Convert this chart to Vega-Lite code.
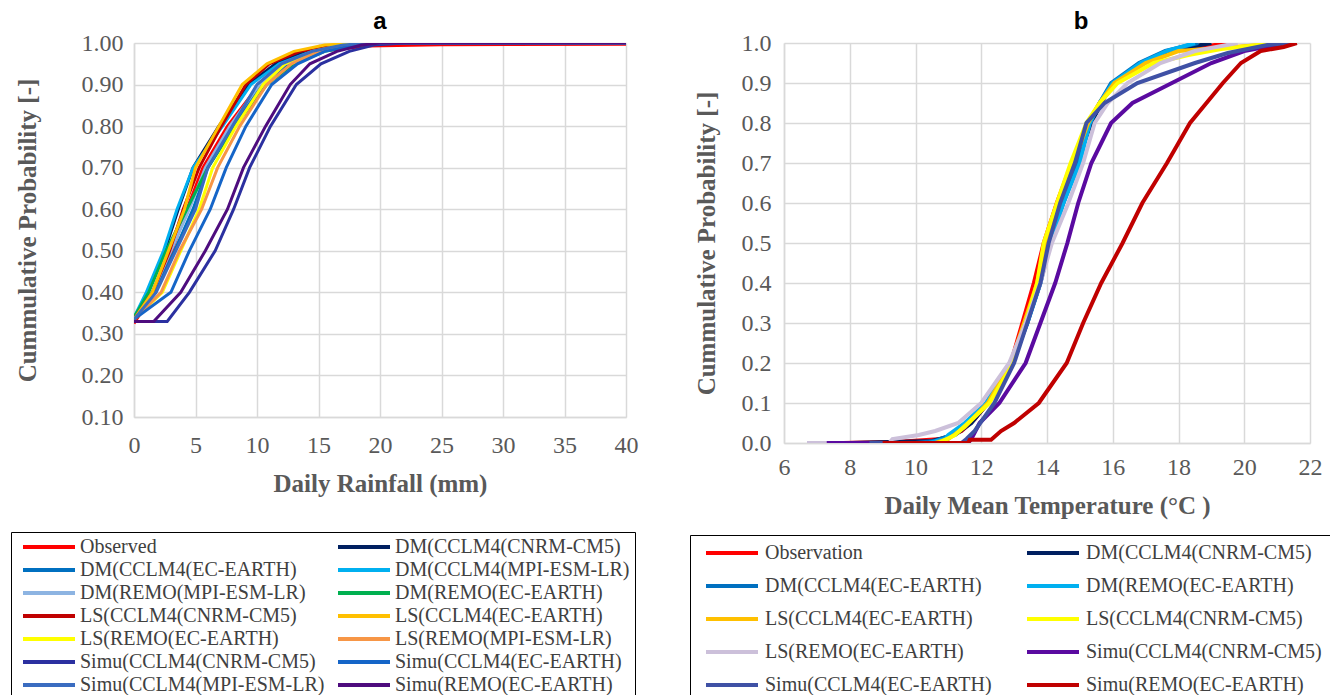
{
  "$schema": "https://vega.github.io/schema/vega-lite/v6.json",
  "background": "white",
  "padding": {"left": 10, "top": 10, "right": 5, "bottom": 5},
  "spacing": 51,
  "config": {
    "view": {"stroke": null},
    "font": "Liberation Serif",
    "title": {"font": "Liberation Sans", "fontSize": 24, "fontWeight": "bold", "color": "black", "offset": -3},
    "axis": {
      "grid": true, "gridColor": "#D9D9D9", "gridWidth": 1.5,
      "domainColor": "#D9D9D9", "domainWidth": 1.5, "ticks": false,
      "labelFont": "Liberation Serif", "labelFontSize": 24, "labelColor": "#595959",
      "labelOverlap": false, "labelFlush": false,
      "titleFont": "Liberation Serif", "titleFontSize": 25, "titleFontWeight": "bold", "titleColor": "#595959"
    },
    "legend": {
      "symbolType": "stroke", "symbolSize": 2704, "symbolStrokeWidth": 4,
      "labelFont": "Liberation Serif", "labelFontSize": 20, "labelColor": "#404040", "labelLimit": 400,
      "clipHeight": 20, "gridAlign": "all", "strokeColor": "black", "fillColor": "white"
    }
  },
  "datasets": {
    "rain": [
      {"s": "Observed", "x": 0, "p": 0.325}, {"s": "Observed", "x": 1.6, "p": 0.4}, {"s": "Observed", "x": 3.1, "p": 0.5}, {"s": "Observed", "x": 4.3, "p": 0.6}, {"s": "Observed", "x": 5.6, "p": 0.7}, {"s": "Observed", "x": 7.6, "p": 0.8}, {"s": "Observed", "x": 10.2, "p": 0.9}, {"s": "Observed", "x": 12.5, "p": 0.95}, {"s": "Observed", "x": 15, "p": 0.98}, {"s": "Observed", "x": 19, "p": 0.993}, {"s": "Observed", "x": 25, "p": 0.996}, {"s": "Observed", "x": 40, "p": 0.997},
      {"s": "DM(CCLM4(CNRM-CM5)", "x": 0, "p": 0.335}, {"s": "DM(CCLM4(CNRM-CM5)", "x": 1.1, "p": 0.4}, {"s": "DM(CCLM4(CNRM-CM5)", "x": 2.5, "p": 0.5}, {"s": "DM(CCLM4(CNRM-CM5)", "x": 3.6, "p": 0.6}, {"s": "DM(CCLM4(CNRM-CM5)", "x": 4.8, "p": 0.7}, {"s": "DM(CCLM4(CNRM-CM5)", "x": 6.9, "p": 0.8}, {"s": "DM(CCLM4(CNRM-CM5)", "x": 9.3, "p": 0.9}, {"s": "DM(CCLM4(CNRM-CM5)", "x": 11.5, "p": 0.95}, {"s": "DM(CCLM4(CNRM-CM5)", "x": 14, "p": 0.98}, {"s": "DM(CCLM4(CNRM-CM5)", "x": 17, "p": 0.995}, {"s": "DM(CCLM4(CNRM-CM5)", "x": 20, "p": 1}, {"s": "DM(CCLM4(CNRM-CM5)", "x": 40, "p": 1},
      {"s": "DM(CCLM4(EC-EARTH)", "x": 0, "p": 0.335}, {"s": "DM(CCLM4(EC-EARTH)", "x": 1.7, "p": 0.4}, {"s": "DM(CCLM4(EC-EARTH)", "x": 3.3, "p": 0.5}, {"s": "DM(CCLM4(EC-EARTH)", "x": 4.8, "p": 0.6}, {"s": "DM(CCLM4(EC-EARTH)", "x": 6.0, "p": 0.7}, {"s": "DM(CCLM4(EC-EARTH)", "x": 8.0, "p": 0.8}, {"s": "DM(CCLM4(EC-EARTH)", "x": 10.4, "p": 0.9}, {"s": "DM(CCLM4(EC-EARTH)", "x": 12.5, "p": 0.95}, {"s": "DM(CCLM4(EC-EARTH)", "x": 15, "p": 0.98}, {"s": "DM(CCLM4(EC-EARTH)", "x": 18, "p": 0.995}, {"s": "DM(CCLM4(EC-EARTH)", "x": 20, "p": 1}, {"s": "DM(CCLM4(EC-EARTH)", "x": 40, "p": 1},
      {"s": "DM(CCLM4(MPI-ESM-LR)", "x": 0, "p": 0.34}, {"s": "DM(CCLM4(MPI-ESM-LR)", "x": 1.0, "p": 0.4}, {"s": "DM(CCLM4(MPI-ESM-LR)", "x": 2.4, "p": 0.5}, {"s": "DM(CCLM4(MPI-ESM-LR)", "x": 3.5, "p": 0.6}, {"s": "DM(CCLM4(MPI-ESM-LR)", "x": 4.8, "p": 0.7}, {"s": "DM(CCLM4(MPI-ESM-LR)", "x": 7.2, "p": 0.8}, {"s": "DM(CCLM4(MPI-ESM-LR)", "x": 9.5, "p": 0.9}, {"s": "DM(CCLM4(MPI-ESM-LR)", "x": 11.8, "p": 0.95}, {"s": "DM(CCLM4(MPI-ESM-LR)", "x": 14.5, "p": 0.98}, {"s": "DM(CCLM4(MPI-ESM-LR)", "x": 17, "p": 0.995}, {"s": "DM(CCLM4(MPI-ESM-LR)", "x": 19, "p": 1}, {"s": "DM(CCLM4(MPI-ESM-LR)", "x": 40, "p": 1},
      {"s": "DM(REMO(MPI-ESM-LR)", "x": 0, "p": 0.335}, {"s": "DM(REMO(MPI-ESM-LR)", "x": 1.5, "p": 0.4}, {"s": "DM(REMO(MPI-ESM-LR)", "x": 3.0, "p": 0.5}, {"s": "DM(REMO(MPI-ESM-LR)", "x": 4.5, "p": 0.6}, {"s": "DM(REMO(MPI-ESM-LR)", "x": 5.8, "p": 0.7}, {"s": "DM(REMO(MPI-ESM-LR)", "x": 7.8, "p": 0.8}, {"s": "DM(REMO(MPI-ESM-LR)", "x": 10.2, "p": 0.9}, {"s": "DM(REMO(MPI-ESM-LR)", "x": 12.3, "p": 0.95}, {"s": "DM(REMO(MPI-ESM-LR)", "x": 15, "p": 0.98}, {"s": "DM(REMO(MPI-ESM-LR)", "x": 18, "p": 0.995}, {"s": "DM(REMO(MPI-ESM-LR)", "x": 20, "p": 1}, {"s": "DM(REMO(MPI-ESM-LR)", "x": 40, "p": 1},
      {"s": "DM(REMO(EC-EARTH)", "x": 0, "p": 0.34}, {"s": "DM(REMO(EC-EARTH)", "x": 1.2, "p": 0.4}, {"s": "DM(REMO(EC-EARTH)", "x": 2.6, "p": 0.5}, {"s": "DM(REMO(EC-EARTH)", "x": 4.3, "p": 0.6}, {"s": "DM(REMO(EC-EARTH)", "x": 6.0, "p": 0.7}, {"s": "DM(REMO(EC-EARTH)", "x": 8.2, "p": 0.8}, {"s": "DM(REMO(EC-EARTH)", "x": 10.8, "p": 0.9}, {"s": "DM(REMO(EC-EARTH)", "x": 13, "p": 0.95}, {"s": "DM(REMO(EC-EARTH)", "x": 15.5, "p": 0.98}, {"s": "DM(REMO(EC-EARTH)", "x": 18.5, "p": 0.995}, {"s": "DM(REMO(EC-EARTH)", "x": 21, "p": 1}, {"s": "DM(REMO(EC-EARTH)", "x": 40, "p": 1},
      {"s": "LS(CCLM4(CNRM-CM5)", "x": 0, "p": 0.335}, {"s": "LS(CCLM4(CNRM-CM5)", "x": 1.5, "p": 0.4}, {"s": "LS(CCLM4(CNRM-CM5)", "x": 2.9, "p": 0.5}, {"s": "LS(CCLM4(CNRM-CM5)", "x": 4.0, "p": 0.6}, {"s": "LS(CCLM4(CNRM-CM5)", "x": 5.3, "p": 0.7}, {"s": "LS(CCLM4(CNRM-CM5)", "x": 7.1, "p": 0.8}, {"s": "LS(CCLM4(CNRM-CM5)", "x": 9.1, "p": 0.9}, {"s": "LS(CCLM4(CNRM-CM5)", "x": 11, "p": 0.95}, {"s": "LS(CCLM4(CNRM-CM5)", "x": 13.5, "p": 0.98}, {"s": "LS(CCLM4(CNRM-CM5)", "x": 16.5, "p": 0.995}, {"s": "LS(CCLM4(CNRM-CM5)", "x": 19, "p": 1}, {"s": "LS(CCLM4(CNRM-CM5)", "x": 40, "p": 1},
      {"s": "LS(CCLM4(EC-EARTH)", "x": 0, "p": 0.335}, {"s": "LS(CCLM4(EC-EARTH)", "x": 1.5, "p": 0.4}, {"s": "LS(CCLM4(EC-EARTH)", "x": 2.8, "p": 0.5}, {"s": "LS(CCLM4(EC-EARTH)", "x": 4.1, "p": 0.6}, {"s": "LS(CCLM4(EC-EARTH)", "x": 5.0, "p": 0.7}, {"s": "LS(CCLM4(EC-EARTH)", "x": 6.9, "p": 0.8}, {"s": "LS(CCLM4(EC-EARTH)", "x": 8.8, "p": 0.9}, {"s": "LS(CCLM4(EC-EARTH)", "x": 10.8, "p": 0.95}, {"s": "LS(CCLM4(EC-EARTH)", "x": 13, "p": 0.98}, {"s": "LS(CCLM4(EC-EARTH)", "x": 15.5, "p": 0.995}, {"s": "LS(CCLM4(EC-EARTH)", "x": 18, "p": 1}, {"s": "LS(CCLM4(EC-EARTH)", "x": 40, "p": 1},
      {"s": "LS(REMO(EC-EARTH)", "x": 0, "p": 0.335}, {"s": "LS(REMO(EC-EARTH)", "x": 2.3, "p": 0.4}, {"s": "LS(REMO(EC-EARTH)", "x": 3.8, "p": 0.5}, {"s": "LS(REMO(EC-EARTH)", "x": 5.3, "p": 0.6}, {"s": "LS(REMO(EC-EARTH)", "x": 6.4, "p": 0.7}, {"s": "LS(REMO(EC-EARTH)", "x": 8.3, "p": 0.8}, {"s": "LS(REMO(EC-EARTH)", "x": 10.5, "p": 0.9}, {"s": "LS(REMO(EC-EARTH)", "x": 12.3, "p": 0.95}, {"s": "LS(REMO(EC-EARTH)", "x": 14.5, "p": 0.98}, {"s": "LS(REMO(EC-EARTH)", "x": 17, "p": 0.995}, {"s": "LS(REMO(EC-EARTH)", "x": 19, "p": 1}, {"s": "LS(REMO(EC-EARTH)", "x": 40, "p": 1},
      {"s": "LS(REMO(MPI-ESM-LR)", "x": 0, "p": 0.335}, {"s": "LS(REMO(MPI-ESM-LR)", "x": 2.2, "p": 0.4}, {"s": "LS(REMO(MPI-ESM-LR)", "x": 3.7, "p": 0.5}, {"s": "LS(REMO(MPI-ESM-LR)", "x": 5.5, "p": 0.6}, {"s": "LS(REMO(MPI-ESM-LR)", "x": 6.8, "p": 0.7}, {"s": "LS(REMO(MPI-ESM-LR)", "x": 8.6, "p": 0.8}, {"s": "LS(REMO(MPI-ESM-LR)", "x": 10.8, "p": 0.9}, {"s": "LS(REMO(MPI-ESM-LR)", "x": 12.8, "p": 0.95}, {"s": "LS(REMO(MPI-ESM-LR)", "x": 15, "p": 0.98}, {"s": "LS(REMO(MPI-ESM-LR)", "x": 17.5, "p": 0.995}, {"s": "LS(REMO(MPI-ESM-LR)", "x": 20, "p": 1}, {"s": "LS(REMO(MPI-ESM-LR)", "x": 40, "p": 1},
      {"s": "Simu(CCLM4(CNRM-CM5)", "x": 0, "p": 0.33}, {"s": "Simu(CCLM4(CNRM-CM5)", "x": 2.7, "p": 0.33}, {"s": "Simu(CCLM4(CNRM-CM5)", "x": 4.5, "p": 0.4}, {"s": "Simu(CCLM4(CNRM-CM5)", "x": 6.6, "p": 0.5}, {"s": "Simu(CCLM4(CNRM-CM5)", "x": 8.1, "p": 0.6}, {"s": "Simu(CCLM4(CNRM-CM5)", "x": 9.4, "p": 0.7}, {"s": "Simu(CCLM4(CNRM-CM5)", "x": 11.1, "p": 0.8}, {"s": "Simu(CCLM4(CNRM-CM5)", "x": 13.2, "p": 0.9}, {"s": "Simu(CCLM4(CNRM-CM5)", "x": 15.2, "p": 0.95}, {"s": "Simu(CCLM4(CNRM-CM5)", "x": 17.5, "p": 0.98}, {"s": "Simu(CCLM4(CNRM-CM5)", "x": 19.5, "p": 0.995}, {"s": "Simu(CCLM4(CNRM-CM5)", "x": 22, "p": 1}, {"s": "Simu(CCLM4(CNRM-CM5)", "x": 40, "p": 1},
      {"s": "Simu(CCLM4(EC-EARTH)", "x": 0, "p": 0.335}, {"s": "Simu(CCLM4(EC-EARTH)", "x": 3.0, "p": 0.4}, {"s": "Simu(CCLM4(EC-EARTH)", "x": 4.5, "p": 0.5}, {"s": "Simu(CCLM4(EC-EARTH)", "x": 6.2, "p": 0.6}, {"s": "Simu(CCLM4(EC-EARTH)", "x": 7.5, "p": 0.7}, {"s": "Simu(CCLM4(EC-EARTH)", "x": 9.1, "p": 0.8}, {"s": "Simu(CCLM4(EC-EARTH)", "x": 11.2, "p": 0.9}, {"s": "Simu(CCLM4(EC-EARTH)", "x": 13.3, "p": 0.95}, {"s": "Simu(CCLM4(EC-EARTH)", "x": 15.5, "p": 0.98}, {"s": "Simu(CCLM4(EC-EARTH)", "x": 18, "p": 0.995}, {"s": "Simu(CCLM4(EC-EARTH)", "x": 20, "p": 1}, {"s": "Simu(CCLM4(EC-EARTH)", "x": 40, "p": 1},
      {"s": "Simu(CCLM4(MPI-ESM-LR)", "x": 0, "p": 0.335}, {"s": "Simu(CCLM4(MPI-ESM-LR)", "x": 1.8, "p": 0.4}, {"s": "Simu(CCLM4(MPI-ESM-LR)", "x": 3.4, "p": 0.5}, {"s": "Simu(CCLM4(MPI-ESM-LR)", "x": 5.0, "p": 0.6}, {"s": "Simu(CCLM4(MPI-ESM-LR)", "x": 6.0, "p": 0.7}, {"s": "Simu(CCLM4(MPI-ESM-LR)", "x": 8.0, "p": 0.8}, {"s": "Simu(CCLM4(MPI-ESM-LR)", "x": 10.0, "p": 0.9}, {"s": "Simu(CCLM4(MPI-ESM-LR)", "x": 12, "p": 0.95}, {"s": "Simu(CCLM4(MPI-ESM-LR)", "x": 14.5, "p": 0.98}, {"s": "Simu(CCLM4(MPI-ESM-LR)", "x": 17, "p": 0.995}, {"s": "Simu(CCLM4(MPI-ESM-LR)", "x": 19, "p": 1}, {"s": "Simu(CCLM4(MPI-ESM-LR)", "x": 40, "p": 1},
      {"s": "Simu(REMO(EC-EARTH)", "x": 0, "p": 0.33}, {"s": "Simu(REMO(EC-EARTH)", "x": 1.6, "p": 0.33}, {"s": "Simu(REMO(EC-EARTH)", "x": 3.8, "p": 0.4}, {"s": "Simu(REMO(EC-EARTH)", "x": 5.8, "p": 0.5}, {"s": "Simu(REMO(EC-EARTH)", "x": 7.6, "p": 0.6}, {"s": "Simu(REMO(EC-EARTH)", "x": 8.9, "p": 0.7}, {"s": "Simu(REMO(EC-EARTH)", "x": 10.7, "p": 0.8}, {"s": "Simu(REMO(EC-EARTH)", "x": 12.7, "p": 0.9}, {"s": "Simu(REMO(EC-EARTH)", "x": 14.3, "p": 0.95}, {"s": "Simu(REMO(EC-EARTH)", "x": 16.5, "p": 0.98}, {"s": "Simu(REMO(EC-EARTH)", "x": 18.5, "p": 0.995}, {"s": "Simu(REMO(EC-EARTH)", "x": 20, "p": 1}, {"s": "Simu(REMO(EC-EARTH)", "x": 40, "p": 1}
    ],
    "temp": [
      {"s": "Observation", "x": 7.8, "p": 0}, {"s": "Observation", "x": 9.5, "p": 0.003}, {"s": "Observation", "x": 10.8, "p": 0.01}, {"s": "Observation", "x": 11.4, "p": 0.03}, {"s": "Observation", "x": 11.8, "p": 0.06}, {"s": "Observation", "x": 12.2, "p": 0.1}, {"s": "Observation", "x": 12.9, "p": 0.2}, {"s": "Observation", "x": 13.25, "p": 0.3}, {"s": "Observation", "x": 13.6, "p": 0.4}, {"s": "Observation", "x": 13.9, "p": 0.5}, {"s": "Observation", "x": 14.3, "p": 0.6}, {"s": "Observation", "x": 14.75, "p": 0.7}, {"s": "Observation", "x": 15.25, "p": 0.8}, {"s": "Observation", "x": 15.6, "p": 0.85}, {"s": "Observation", "x": 16.1, "p": 0.9}, {"s": "Observation", "x": 16.9, "p": 0.95}, {"s": "Observation", "x": 17.9, "p": 0.98}, {"s": "Observation", "x": 19.5, "p": 1},
      {"s": "DM(CCLM4(CNRM-CM5)", "x": 8.0, "p": 0}, {"s": "DM(CCLM4(CNRM-CM5)", "x": 10.5, "p": 0.005}, {"s": "DM(CCLM4(CNRM-CM5)", "x": 11.2, "p": 0.02}, {"s": "DM(CCLM4(CNRM-CM5)", "x": 11.7, "p": 0.05}, {"s": "DM(CCLM4(CNRM-CM5)", "x": 12.2, "p": 0.1}, {"s": "DM(CCLM4(CNRM-CM5)", "x": 12.95, "p": 0.2}, {"s": "DM(CCLM4(CNRM-CM5)", "x": 13.4, "p": 0.3}, {"s": "DM(CCLM4(CNRM-CM5)", "x": 13.75, "p": 0.4}, {"s": "DM(CCLM4(CNRM-CM5)", "x": 14.05, "p": 0.5}, {"s": "DM(CCLM4(CNRM-CM5)", "x": 14.45, "p": 0.6}, {"s": "DM(CCLM4(CNRM-CM5)", "x": 14.9, "p": 0.7}, {"s": "DM(CCLM4(CNRM-CM5)", "x": 15.35, "p": 0.8}, {"s": "DM(CCLM4(CNRM-CM5)", "x": 15.65, "p": 0.85}, {"s": "DM(CCLM4(CNRM-CM5)", "x": 16.0, "p": 0.9}, {"s": "DM(CCLM4(CNRM-CM5)", "x": 16.9, "p": 0.95}, {"s": "DM(CCLM4(CNRM-CM5)", "x": 17.7, "p": 0.98}, {"s": "DM(CCLM4(CNRM-CM5)", "x": 19.0, "p": 1},
      {"s": "DM(CCLM4(EC-EARTH)", "x": 10.0, "p": 0}, {"s": "DM(CCLM4(EC-EARTH)", "x": 10.6, "p": 0.005}, {"s": "DM(CCLM4(EC-EARTH)", "x": 11.1, "p": 0.02}, {"s": "DM(CCLM4(EC-EARTH)", "x": 11.6, "p": 0.05}, {"s": "DM(CCLM4(EC-EARTH)", "x": 12.15, "p": 0.1}, {"s": "DM(CCLM4(EC-EARTH)", "x": 12.9, "p": 0.2}, {"s": "DM(CCLM4(EC-EARTH)", "x": 13.4, "p": 0.3}, {"s": "DM(CCLM4(EC-EARTH)", "x": 13.8, "p": 0.4}, {"s": "DM(CCLM4(EC-EARTH)", "x": 14.1, "p": 0.5}, {"s": "DM(CCLM4(EC-EARTH)", "x": 14.5, "p": 0.6}, {"s": "DM(CCLM4(EC-EARTH)", "x": 14.95, "p": 0.7}, {"s": "DM(CCLM4(EC-EARTH)", "x": 15.3, "p": 0.8}, {"s": "DM(CCLM4(EC-EARTH)", "x": 15.6, "p": 0.85}, {"s": "DM(CCLM4(EC-EARTH)", "x": 15.95, "p": 0.9}, {"s": "DM(CCLM4(EC-EARTH)", "x": 16.8, "p": 0.95}, {"s": "DM(CCLM4(EC-EARTH)", "x": 17.6, "p": 0.98}, {"s": "DM(CCLM4(EC-EARTH)", "x": 18.6, "p": 1},
      {"s": "DM(REMO(EC-EARTH)", "x": 10.4, "p": 0}, {"s": "DM(REMO(EC-EARTH)", "x": 10.9, "p": 0.01}, {"s": "DM(REMO(EC-EARTH)", "x": 11.0, "p": 0.02}, {"s": "DM(REMO(EC-EARTH)", "x": 11.5, "p": 0.05}, {"s": "DM(REMO(EC-EARTH)", "x": 12.15, "p": 0.1}, {"s": "DM(REMO(EC-EARTH)", "x": 12.9, "p": 0.2}, {"s": "DM(REMO(EC-EARTH)", "x": 13.4, "p": 0.3}, {"s": "DM(REMO(EC-EARTH)", "x": 13.8, "p": 0.4}, {"s": "DM(REMO(EC-EARTH)", "x": 14.1, "p": 0.5}, {"s": "DM(REMO(EC-EARTH)", "x": 14.5, "p": 0.6}, {"s": "DM(REMO(EC-EARTH)", "x": 15.0, "p": 0.7}, {"s": "DM(REMO(EC-EARTH)", "x": 15.3, "p": 0.8}, {"s": "DM(REMO(EC-EARTH)", "x": 15.6, "p": 0.85}, {"s": "DM(REMO(EC-EARTH)", "x": 16.0, "p": 0.9}, {"s": "DM(REMO(EC-EARTH)", "x": 16.85, "p": 0.95}, {"s": "DM(REMO(EC-EARTH)", "x": 17.65, "p": 0.98}, {"s": "DM(REMO(EC-EARTH)", "x": 18.5, "p": 1},
      {"s": "LS(CCLM4(EC-EARTH)", "x": 10.6, "p": 0}, {"s": "LS(CCLM4(EC-EARTH)", "x": 11.0, "p": 0.01}, {"s": "LS(CCLM4(EC-EARTH)", "x": 11.5, "p": 0.04}, {"s": "LS(CCLM4(EC-EARTH)", "x": 12.2, "p": 0.1}, {"s": "LS(CCLM4(EC-EARTH)", "x": 12.9, "p": 0.2}, {"s": "LS(CCLM4(EC-EARTH)", "x": 13.3, "p": 0.3}, {"s": "LS(CCLM4(EC-EARTH)", "x": 13.7, "p": 0.4}, {"s": "LS(CCLM4(EC-EARTH)", "x": 13.95, "p": 0.5}, {"s": "LS(CCLM4(EC-EARTH)", "x": 14.35, "p": 0.6}, {"s": "LS(CCLM4(EC-EARTH)", "x": 14.8, "p": 0.7}, {"s": "LS(CCLM4(EC-EARTH)", "x": 15.25, "p": 0.8}, {"s": "LS(CCLM4(EC-EARTH)", "x": 15.6, "p": 0.85}, {"s": "LS(CCLM4(EC-EARTH)", "x": 16.05, "p": 0.9}, {"s": "LS(CCLM4(EC-EARTH)", "x": 17.0, "p": 0.95}, {"s": "LS(CCLM4(EC-EARTH)", "x": 18.0, "p": 0.98}, {"s": "LS(CCLM4(EC-EARTH)", "x": 20.5, "p": 0.995}, {"s": "LS(CCLM4(EC-EARTH)", "x": 21.3, "p": 1},
      {"s": "LS(CCLM4(CNRM-CM5)", "x": 10.7, "p": 0}, {"s": "LS(CCLM4(CNRM-CM5)", "x": 11.2, "p": 0.02}, {"s": "LS(CCLM4(CNRM-CM5)", "x": 11.6, "p": 0.05}, {"s": "LS(CCLM4(CNRM-CM5)", "x": 12.25, "p": 0.1}, {"s": "LS(CCLM4(CNRM-CM5)", "x": 12.96, "p": 0.2}, {"s": "LS(CCLM4(CNRM-CM5)", "x": 13.35, "p": 0.3}, {"s": "LS(CCLM4(CNRM-CM5)", "x": 13.7, "p": 0.4}, {"s": "LS(CCLM4(CNRM-CM5)", "x": 13.9, "p": 0.5}, {"s": "LS(CCLM4(CNRM-CM5)", "x": 14.3, "p": 0.6}, {"s": "LS(CCLM4(CNRM-CM5)", "x": 14.72, "p": 0.7}, {"s": "LS(CCLM4(CNRM-CM5)", "x": 15.2, "p": 0.8}, {"s": "LS(CCLM4(CNRM-CM5)", "x": 15.6, "p": 0.85}, {"s": "LS(CCLM4(CNRM-CM5)", "x": 16.15, "p": 0.9}, {"s": "LS(CCLM4(CNRM-CM5)", "x": 17.25, "p": 0.95}, {"s": "LS(CCLM4(CNRM-CM5)", "x": 18.3, "p": 0.97}, {"s": "LS(CCLM4(CNRM-CM5)", "x": 19.3, "p": 0.985}, {"s": "LS(CCLM4(CNRM-CM5)", "x": 21.0, "p": 1},
      {"s": "LS(REMO(EC-EARTH)", "x": 6.7, "p": 0}, {"s": "LS(REMO(EC-EARTH)", "x": 9.2, "p": 0}, {"s": "LS(REMO(EC-EARTH)", "x": 9.3, "p": 0.01}, {"s": "LS(REMO(EC-EARTH)", "x": 10.1, "p": 0.02}, {"s": "LS(REMO(EC-EARTH)", "x": 10.6, "p": 0.03}, {"s": "LS(REMO(EC-EARTH)", "x": 11.3, "p": 0.05}, {"s": "LS(REMO(EC-EARTH)", "x": 12.0, "p": 0.1}, {"s": "LS(REMO(EC-EARTH)", "x": 12.85, "p": 0.2}, {"s": "LS(REMO(EC-EARTH)", "x": 13.35, "p": 0.3}, {"s": "LS(REMO(EC-EARTH)", "x": 13.8, "p": 0.4}, {"s": "LS(REMO(EC-EARTH)", "x": 14.15, "p": 0.5}, {"s": "LS(REMO(EC-EARTH)", "x": 14.65, "p": 0.6}, {"s": "LS(REMO(EC-EARTH)", "x": 15.1, "p": 0.7}, {"s": "LS(REMO(EC-EARTH)", "x": 15.45, "p": 0.8}, {"s": "LS(REMO(EC-EARTH)", "x": 15.85, "p": 0.85}, {"s": "LS(REMO(EC-EARTH)", "x": 16.45, "p": 0.9}, {"s": "LS(REMO(EC-EARTH)", "x": 17.45, "p": 0.95}, {"s": "LS(REMO(EC-EARTH)", "x": 18.5, "p": 0.98}, {"s": "LS(REMO(EC-EARTH)", "x": 19.8, "p": 1},
      {"s": "Simu(CCLM4(CNRM-CM5)", "x": 7.3, "p": 0}, {"s": "Simu(CCLM4(CNRM-CM5)", "x": 11.6, "p": 0}, {"s": "Simu(CCLM4(CNRM-CM5)", "x": 11.7, "p": 0.01}, {"s": "Simu(CCLM4(CNRM-CM5)", "x": 11.95, "p": 0.05}, {"s": "Simu(CCLM4(CNRM-CM5)", "x": 12.55, "p": 0.1}, {"s": "Simu(CCLM4(CNRM-CM5)", "x": 13.35, "p": 0.2}, {"s": "Simu(CCLM4(CNRM-CM5)", "x": 13.8, "p": 0.3}, {"s": "Simu(CCLM4(CNRM-CM5)", "x": 14.25, "p": 0.4}, {"s": "Simu(CCLM4(CNRM-CM5)", "x": 14.62, "p": 0.5}, {"s": "Simu(CCLM4(CNRM-CM5)", "x": 14.95, "p": 0.6}, {"s": "Simu(CCLM4(CNRM-CM5)", "x": 15.35, "p": 0.7}, {"s": "Simu(CCLM4(CNRM-CM5)", "x": 15.95, "p": 0.8}, {"s": "Simu(CCLM4(CNRM-CM5)", "x": 16.6, "p": 0.85}, {"s": "Simu(CCLM4(CNRM-CM5)", "x": 17.8, "p": 0.9}, {"s": "Simu(CCLM4(CNRM-CM5)", "x": 19.0, "p": 0.95}, {"s": "Simu(CCLM4(CNRM-CM5)", "x": 20.0, "p": 0.98}, {"s": "Simu(CCLM4(CNRM-CM5)", "x": 21.3, "p": 1},
      {"s": "Simu(CCLM4(EC-EARTH)", "x": 8.6, "p": 0}, {"s": "Simu(CCLM4(EC-EARTH)", "x": 11.4, "p": 0}, {"s": "Simu(CCLM4(EC-EARTH)", "x": 11.55, "p": 0.01}, {"s": "Simu(CCLM4(EC-EARTH)", "x": 11.8, "p": 0.03}, {"s": "Simu(CCLM4(EC-EARTH)", "x": 12.4, "p": 0.1}, {"s": "Simu(CCLM4(EC-EARTH)", "x": 13.0, "p": 0.2}, {"s": "Simu(CCLM4(EC-EARTH)", "x": 13.4, "p": 0.3}, {"s": "Simu(CCLM4(EC-EARTH)", "x": 13.8, "p": 0.4}, {"s": "Simu(CCLM4(EC-EARTH)", "x": 14.05, "p": 0.5}, {"s": "Simu(CCLM4(EC-EARTH)", "x": 14.4, "p": 0.6}, {"s": "Simu(CCLM4(EC-EARTH)", "x": 14.85, "p": 0.7}, {"s": "Simu(CCLM4(EC-EARTH)", "x": 15.2, "p": 0.8}, {"s": "Simu(CCLM4(EC-EARTH)", "x": 15.75, "p": 0.85}, {"s": "Simu(CCLM4(EC-EARTH)", "x": 16.75, "p": 0.9}, {"s": "Simu(CCLM4(EC-EARTH)", "x": 18.5, "p": 0.95}, {"s": "Simu(CCLM4(EC-EARTH)", "x": 19.5, "p": 0.975}, {"s": "Simu(CCLM4(EC-EARTH)", "x": 20.7, "p": 0.995}, {"s": "Simu(CCLM4(EC-EARTH)", "x": 21.5, "p": 1},
      {"s": "Simu(REMO(EC-EARTH)", "x": 9.0, "p": 0}, {"s": "Simu(REMO(EC-EARTH)", "x": 11.6, "p": 0}, {"s": "Simu(REMO(EC-EARTH)", "x": 11.65, "p": 0.008}, {"s": "Simu(REMO(EC-EARTH)", "x": 12.3, "p": 0.008}, {"s": "Simu(REMO(EC-EARTH)", "x": 12.6, "p": 0.03}, {"s": "Simu(REMO(EC-EARTH)", "x": 13.0, "p": 0.05}, {"s": "Simu(REMO(EC-EARTH)", "x": 13.75, "p": 0.1}, {"s": "Simu(REMO(EC-EARTH)", "x": 14.6, "p": 0.2}, {"s": "Simu(REMO(EC-EARTH)", "x": 15.1, "p": 0.3}, {"s": "Simu(REMO(EC-EARTH)", "x": 15.65, "p": 0.4}, {"s": "Simu(REMO(EC-EARTH)", "x": 16.3, "p": 0.5}, {"s": "Simu(REMO(EC-EARTH)", "x": 16.9, "p": 0.6}, {"s": "Simu(REMO(EC-EARTH)", "x": 17.65, "p": 0.7}, {"s": "Simu(REMO(EC-EARTH)", "x": 18.35, "p": 0.8}, {"s": "Simu(REMO(EC-EARTH)", "x": 18.85, "p": 0.85}, {"s": "Simu(REMO(EC-EARTH)", "x": 19.35, "p": 0.9}, {"s": "Simu(REMO(EC-EARTH)", "x": 19.9, "p": 0.95}, {"s": "Simu(REMO(EC-EARTH)", "x": 20.5, "p": 0.98}, {"s": "Simu(REMO(EC-EARTH)", "x": 21.2, "p": 0.99}, {"s": "Simu(REMO(EC-EARTH)", "x": 21.6, "p": 1}
    ]
  },
  "hconcat": [
    {
      "title": {"text": "a"},
      "width": 492,
      "height": 374,
      "data": {"name": "rain"},
      "mark": {"type": "line", "strokeWidth": 3, "clip": true},
      "encoding": {
        "x": {"field": "x", "type": "quantitative",
              "scale": {"domain": [0, 40], "nice": false},
              "axis": {"title": "Daily Rainfall (mm)", "values": [0, 5, 10, 15, 20, 25, 30, 35, 40], "labelFont": "Liberation Serif", "labelPadding": 16, "titlePadding": 14}},
        "y": {"field": "p", "type": "quantitative",
              "scale": {"domain": [0.1, 1], "nice": false, "zero": false},
              "axis": {"title": "Cummulative Probability [-]", "values": [0.1, 0.2, 0.3, 0.4, 0.5, 0.6, 0.7, 0.8, 0.9, 1.0], "format": ".2f", "labelFont": "Liberation Serif", "labelPadding": 11, "titlePadding": 41}},
        "color": {"field": "s", "type": "nominal",
                  "scale": {
                    "domain": ["Observed", "DM(CCLM4(EC-EARTH)", "DM(REMO(MPI-ESM-LR)", "LS(CCLM4(CNRM-CM5)", "LS(REMO(EC-EARTH)", "Simu(CCLM4(CNRM-CM5)", "Simu(CCLM4(MPI-ESM-LR)", "DM(CCLM4(CNRM-CM5)", "DM(CCLM4(MPI-ESM-LR)", "DM(REMO(EC-EARTH)", "LS(CCLM4(EC-EARTH)", "LS(REMO(MPI-ESM-LR)", "Simu(CCLM4(EC-EARTH)", "Simu(REMO(EC-EARTH)"],
                    "range": ["#FF0000", "#0070C0", "#8DB4E2", "#C00000", "#FFFF00", "#2B30A0", "#3A6CC0", "#002060", "#00B0F0", "#00B050", "#FFC000", "#F79646", "#1565C8", "#4E0C7E"]
                  },
                  "legend": {"title": null, "orient": "none", "legendX": -123, "legendY": 489, "columns": 2, "columnPadding": 6, "rowPadding": 3, "padding": 5, "symbolOffset": 5, "labelOffset": 3}}
      }
    },
    {
      "title": {"text": "b", "dx": 34},
      "width": 526,
      "height": 400,
      "data": {"name": "temp"},
      "mark": {"type": "line", "strokeWidth": 4, "clip": true},
      "encoding": {
        "x": {"field": "x", "type": "quantitative",
              "scale": {"domain": [6, 22], "nice": false, "zero": false},
              "axis": {"title": "Daily Mean Temperature (°C )", "values": [6, 8, 10, 12, 14, 16, 18, 20, 22], "labelFont": "Liberation Serif", "labelPadding": 12, "titlePadding": 14}},
        "y": {"field": "p", "type": "quantitative",
              "scale": {"domain": [0, 1], "nice": false},
              "axis": {"title": "Cummulative Probability [-]", "values": [0, 0.1, 0.2, 0.3, 0.4, 0.5, 0.6, 0.7, 0.8, 0.9, 1.0], "format": ".1f", "labelFont": "Liberation Serif", "labelPadding": 13, "titlePadding": 22}},
        "color": {"field": "s", "type": "nominal",
                  "scale": {
                    "domain": ["Observation", "DM(CCLM4(EC-EARTH)", "LS(CCLM4(EC-EARTH)", "LS(REMO(EC-EARTH)", "Simu(CCLM4(EC-EARTH)", "DM(CCLM4(CNRM-CM5)", "DM(REMO(EC-EARTH)", "LS(CCLM4(CNRM-CM5)", "Simu(CCLM4(CNRM-CM5)", "Simu(REMO(EC-EARTH)"],
                    "range": ["#FF0000", "#0070C0", "#FFC000", "#CCC0DA", "#3F51A5", "#002060", "#00B0F0", "#FFFF00", "#5A0AA0", "#C00000"]
                  },
                  "legend": {"title": null, "orient": "none", "legendX": -94, "legendY": 492, "columns": 2, "columnPadding": 18, "rowPadding": 13, "padding": 8, "symbolOffset": 6, "labelOffset": 5}}
      }
    }
  ],
  "resolve": {"scale": {"color": "independent"}}
}
